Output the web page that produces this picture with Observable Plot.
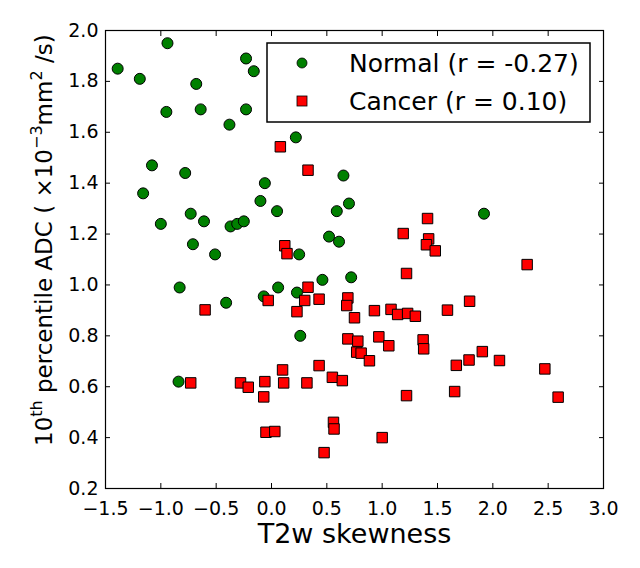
<!DOCTYPE html>
<html><head><meta charset="utf-8">
<script src="https://cdn.jsdelivr.net/npm/d3@7"></script>
<script src="https://cdn.jsdelivr.net/npm/@observablehq/plot@0.6"></script>
<style>body{margin:0;background:#fff}#chart{width:640px;height:568px}</style>
</head><body><div id="chart"></div>
<script>
const normalX = [-1.39,-0.94,-1.19,-0.68,-0.95,-0.64,-0.23,-0.16,-0.23,-0.38,0.22,-1.08,-0.78,-1.16,-0.06,0.65,-0.10,0.05,0.70,0.59,-1.00,-0.73,-0.61,-0.37,-0.31,-0.25,-0.71,-0.51,0.52,0.61,0.25,-0.83,0.06,0.46,0.72,0.23,-0.41,-0.07,0.26,-0.84,1.92];
const normalY = [1.85,1.95,1.81,1.79,1.68,1.69,1.89,1.84,1.69,1.63,1.58,1.47,1.44,1.36,1.40,1.43,1.33,1.29,1.32,1.29,1.24,1.28,1.25,1.23,1.24,1.25,1.16,1.12,1.19,1.17,1.12,0.99,0.99,1.02,1.03,0.97,0.93,0.955,0.80,0.62,1.28];
const cancerX = [0.08,0.33,0.12,0.14,0.33,-0.03,0.30,0.43,0.69,0.68,-0.60,0.23,0.75,0.69,0.78,0.77,0.81,0.10,0.43,0.55,0.64,-0.73,-0.28,-0.21,-0.06,0.11,0.32,-0.07,0.56,0.565,-0.05,0.03,0.475,1.41,1.19,1.42,1.40,1.48,2.31,1.22,0.93,1.08,1.14,1.23,1.30,1.59,1.79,0.885,0.97,1.06,1.37,1.375,1.67,1.785,1.905,2.06,2.47,1.22,1.655,2.59,1.00];
const cancerY = [1.543,1.451,1.154,1.123,0.991,0.939,0.939,0.944,0.949,0.919,0.902,0.895,0.871,0.788,0.779,0.736,0.732,0.666,0.683,0.637,0.624,0.615,0.615,0.598,0.62,0.615,0.615,0.56,0.46,0.434,0.421,0.424,0.341,1.261,1.202,1.181,1.158,1.134,1.08,1.045,0.899,0.904,0.884,0.888,0.877,0.901,0.936,0.702,0.796,0.761,0.784,0.749,0.684,0.705,0.738,0.703,0.67,0.565,0.581,0.559,0.40];
const xTicks = [-1.5,-1.0,-0.5,0.0,0.5,1.0,1.5,2.0,2.5,3.0];
const yTicks = [0.2,0.4,0.6,0.8,1.0,1.2,1.4,1.6,1.8,2.0];
const legendLabels = ["Normal (r = -0.27)", "Cancer (r = 0.10)"];
const xLabel = "T2w skewness";

const normal = normalX.map((x, i) => ({x, y: normalY[i]}));
const cancer = cancerX.map((x, i) => ({x, y: cancerY[i]}));
const FONT = "'DejaVu Sans', 'Bitstream Vera Sans', sans-serif";
const fmt = d3.format(".1f");
const GREEN = "#008000", RED = "#ff0000";

const chart = Plot.plot({
  width: 640, height: 568,
  marginLeft: 105, marginRight: 37, marginTop: 30, marginBottom: 80,
  style: {fontFamily: FONT, color: "black", background: "white"},
  x: {domain: [-1.5, 3.0]},
  y: {domain: [0.2, 2.0]},
  marks: [
    Plot.axisX({anchor: "bottom", ticks: xTicks, tickSize: 0, tickPadding: 13, tickFormat: fmt, label: null, fontSize: 19}),
    Plot.axisX({anchor: "bottom", ticks: xTicks, tickSize: 5, dy: -5, tickFormat: () => "", label: null}),
    Plot.axisX({anchor: "top", ticks: xTicks, tickSize: 5, dy: 5, tickFormat: () => "", label: null}),
    Plot.axisY({anchor: "left", ticks: yTicks, tickSize: 0, tickPadding: 7, tickFormat: fmt, label: null, fontSize: 19}),
    Plot.axisY({anchor: "left", ticks: yTicks, tickSize: 5, dx: 5, tickFormat: () => "", label: null}),
    Plot.axisY({anchor: "right", ticks: yTicks, tickSize: 5, dx: -5, tickFormat: () => "", label: null}),
    Plot.dot(normal, {x: "x", y: "y", r: 5.5, fill: GREEN, stroke: "black", strokeWidth: 1}),
    Plot.dot(cancer, {x: "x", y: "y", r: 5.9, symbol: "square", fill: RED, stroke: "black", strokeWidth: 1}),
    Plot.frame({stroke: "black", strokeWidth: 1.2}),
    Plot.text([xLabel], {frameAnchor: "bottom", dy: 46, fontSize: 27, lineAnchor: "middle", fill: "black"})
  ]
});
document.getElementById("chart").appendChild(chart);

const svg = d3.select(chart);
// y-axis label with superscripts
const yl = svg.append("text")
  .attr("transform", "translate(52,446) rotate(-90)")
  .attr("text-anchor", "start")
  .attr("font-family", FONT).attr("font-size", 23).attr("fill", "black")
  .style("white-space", "pre");
yl.append("tspan").text("10");
yl.append("tspan").attr("dy", -10).attr("font-size", 16).text("th");
yl.append("tspan").attr("dy", 10).text(" percentile ADC ( \u00d710");
yl.append("tspan").attr("dy", -10).attr("font-size", 16).text("\u22123");
yl.append("tspan").attr("dy", 10).text("mm");
yl.append("tspan").attr("dy", -10).attr("font-size", 16).text("2");
yl.append("tspan").attr("dy", 10).text(" /s)");

// legend
const lg = svg.append("g");
lg.append("rect").attr("x", 267).attr("y", 43).attr("width", 323).attr("height", 79)
  .attr("fill", "white").attr("stroke", "black").attr("stroke-width", 1.5);
lg.append("circle").attr("cx", 302).attr("cy", 63).attr("r", 5).attr("fill", GREEN).attr("stroke", "black").attr("stroke-width", 0.8);
lg.append("rect").attr("x", 297).attr("y", 96).attr("width", 10).attr("height", 10).attr("fill", RED).attr("stroke", "black").attr("stroke-width", 0.8);
lg.selectAll("text.lt").data(legendLabels).join("text").attr("class", "lt")
  .attr("x", 349).attr("y", (d, i) => i === 0 ? 72 : 110)
  .attr("text-anchor", "start")
  .attr("font-family", FONT).attr("font-size", 25).attr("fill", "black")
  .text(d => d);
</script></body></html>
